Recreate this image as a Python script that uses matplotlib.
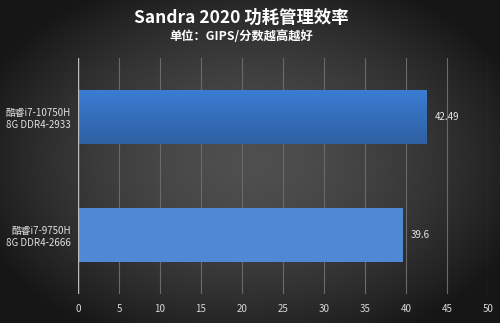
import numpy as np
import matplotlib
matplotlib.use("Agg")
import matplotlib.pyplot as plt

plt.rcParams['font.family'] = ['Noto Sans CJK SC', 'DejaVu Sans']

categories = ["酷睿i7-10750H\n8G DDR4-2933", "酷睿i7-9750H\n8G DDR4-2666"]
values = [42.49, 39.6]
value_labels = ["42.49", "39.6"]
xticks = [0, 5, 10, 15, 20, 25, 30, 35, 40, 45, 50]
title = "Sandra 2020 功耗管理效率"
subtitle = "单位：GIPS/分数越高越好"

fig = plt.figure(figsize=(5.0, 3.23), dpi=100)

# background radial gradient
bg = fig.add_axes([0, 0, 1, 1], zorder=-10)
xx, yy = np.meshgrid(np.linspace(-1, 1, 500), np.linspace(-1, 1, 323))
r = np.sqrt((xx * 0.95) ** 2 + (yy * 0.9) ** 2)
val = 0.31 - 0.19 * np.clip(r, 0, 1.3) ** 1.6
val = np.clip(val, 0.09, 0.32)
img = np.dstack([val, val, val])
bg.imshow(img, aspect='auto', extent=[0, 1, 0, 1], origin='lower')
bg.axis('off')

ax = fig.add_axes([0.156, 0.0898, 0.82, 0.7306])
ax.set_facecolor('none')
pos = np.arange(len(categories))
colors = ['#3672c4', '#4f88d4']
bars = ax.barh(pos, values, height=0.46, color=colors, zorder=3)
ax.set_ylim(1.5, -0.5)
ax.set_xlim(0, 50)

# vertical gradient on the first bar
b0 = bars[0]
grad = np.linspace(0, 1, 100).reshape(-1, 1)
top_c = np.array([0x3b, 0x7d, 0xd4]) / 255
bot_c = np.array([0x2e, 0x60, 0xa2]) / 255
gimg = top_c[None, None, :] * (1 - grad[:, :, None]) + bot_c[None, None, :] * grad[:, :, None]
y0 = b0.get_y()
y1 = y0 + b0.get_height()
im = ax.imshow(gimg, aspect='auto', extent=[0, values[0], y1, y0], origin='upper', zorder=3.5)
im.set_clip_path(b0)
ax.set_ylim(1.5, -0.5)
ax.set_xlim(0, 50)

ax.set_xticks(xticks)
ax.set_xticklabels([str(t) for t in xticks], color='#d8d8d8', fontsize=7)
ax.set_yticks(pos)
ax.set_yticklabels(categories, color='#e0e0e0', fontsize=7, linespacing=1.3)
for t in ax.get_yticklabels():
    t.set_multialignment('right')
ax.tick_params(axis='both', length=0, pad=5)
ax.tick_params(axis='x', pad=7)
for s in ax.spines.values():
    s.set_visible(False)
ax.grid(axis='x', color='#6a6a6a', linewidth=0.8, zorder=0)
ax.axvline(0, color='#bdbdbd', linewidth=1.0, zorder=4)

for b, v, lab in zip(bars, values, value_labels):
    ax.text(v + 1.0, b.get_y() + b.get_height() / 2, lab, color='#e6e6e6',
            fontsize=7, va='center', ha='left')

fig.text(0.483, 0.945, title, color='white', fontsize=12.5, fontweight='bold',
         ha='center', va='center')
fig.text(0.483, 0.888, subtitle, color='white', fontsize=8.8, fontweight='bold',
         ha='center', va='center')

fig.savefig('out.png', dpi=100)
